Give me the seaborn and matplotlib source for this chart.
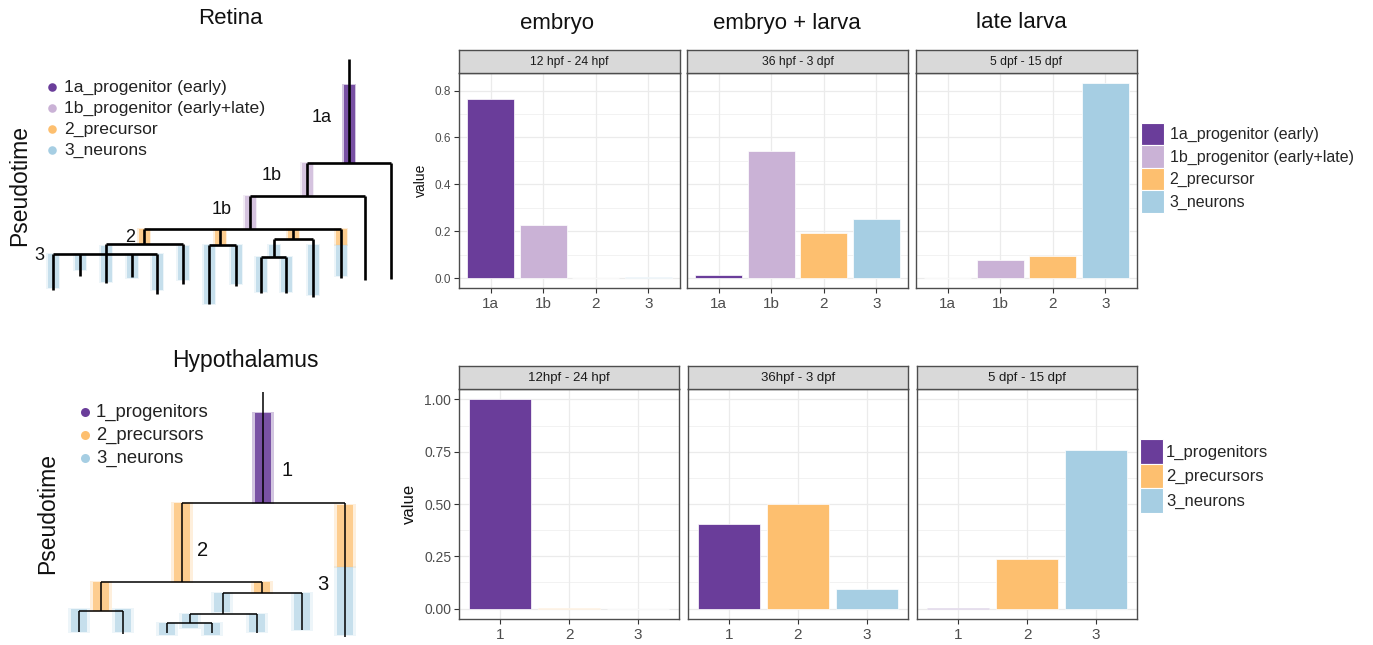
import numpy as np
import pandas as pd
import matplotlib
matplotlib.use("Agg")
import matplotlib.pyplot as plt
import seaborn as sns
from matplotlib.patches import Patch

# ------------------------------------------------------------------ data
retina_clusters = ["1a", "1b", "2", "3"]
retina_labels = ["1a_progenitor (early)", "1b_progenitor (early+late)", "2_precursor", "3_neurons"]
retina_colors = ["#6A3D9A", "#CAB2D6", "#FDBF6F", "#A6CEE3"]
retina_stages = ["12 hpf - 24 hpf", "36 hpf - 3 dpf", "5 dpf - 15 dpf"]
retina_embryo = [0.765, 0.225, 0.003, 0.007]
retina_mid = [0.014, 0.541, 0.194, 0.254]
retina_late = [0.0, 0.078, 0.093, 0.831]

hyp_clusters = ["1", "2", "3"]
hyp_labels = ["1_progenitors", "2_precursors", "3_neurons"]
hyp_colors = ["#6A3D9A", "#FDBF6F", "#A6CEE3"]
hyp_stages = ["12hpf - 24 hpf", "36hpf - 3 dpf", "5 dpf - 15 dpf"]
hyp_embryo = [1.0, 0.002, 0.0]
hyp_mid = [0.405, 0.5, 0.094]
hyp_late = [0.003, 0.238, 0.758]

column_titles = ["embryo", "embryo + larva", "late larva"]

# dendrograms (layout x, pseudotime y) -- vertical branches (x, y_start, y_end)
ret_vx = [349, 391, 307, 365, 250, 341, 144, 183, 106, 53, 80, 106, 132, 157, 220, 209, 236, 293, 313, 274, 261, 286]
ret_vy0 = [59, 163, 163, 196, 196, 229, 229, 244, 244, 254, 254, 254, 254, 254, 229, 245, 245, 229, 239, 239, 257, 257]
ret_vy1 = [163, 279, 196, 280, 229, 278, 244, 284, 254, 290, 276, 283, 277, 294, 245, 304, 286, 239, 297, 257, 293, 293]
# horizontal joins (y, x_start, x_end)
ret_hy = [163, 196, 229, 244, 254, 245, 239, 257]
ret_hx0 = [307, 250, 144, 106, 53, 209, 274, 261]
ret_hx1 = [391, 365, 341, 183, 157, 236, 313, 286]
# cell clouds (x, y_start, y_end, cluster index)
ret_cx = [349, 307, 250, 144, 220, 293, 341, 341, 53, 80, 106, 132, 157, 183, 209, 236, 274, 261, 286, 313]
ret_cy0 = [85, 163, 196, 229, 229, 229, 229, 245, 254, 254, 246, 254, 254, 246, 245, 245, 245, 257, 257, 245]
ret_cy1 = [163, 196, 229, 244, 245, 239, 245, 276, 288, 270, 282, 278, 290, 280, 304, 284, 258, 292, 292, 295]
ret_ck = [0, 1, 1, 2, 2, 2, 2, 3, 3, 3, 3, 3, 3, 3, 3, 3, 3, 3, 3, 3]
ret_node_labels = ["1a", "1b", "1b", "2", "3"]
ret_node_lx = [322, 272, 222, 130, 39]
ret_node_ly = [118, 176, 209, 237, 256]

hyp_vx = [263, 345, 182, 101, 79, 123, 262, 302, 223, 257, 190, 167, 212]
hyp_vy0 = [392, 503, 503, 582, 611, 611, 582, 593, 593, 614, 614, 623, 623]
hyp_vy1 = [503, 637, 582, 611, 632, 634, 593, 630, 614, 633, 623, 633, 633]
hyp_hy = [503, 582, 611, 593, 614, 623]
hyp_hx0 = [182, 101, 79, 223, 190, 167]
hyp_hx1 = [345, 262, 123, 302, 257, 212]
hyp_cx = [263, 182, 345, 345, 101, 262, 79, 123, 222, 302, 257, 190, 167, 212]
hyp_cy0 = [413, 503, 505, 567, 582, 582, 609, 609, 593, 593, 614, 614, 623, 623]
hyp_cy1 = [503, 582, 567, 635, 611, 593, 632, 632, 612, 630, 632, 628, 635, 635]
hyp_ck = [0, 1, 1, 2, 1, 1, 2, 2, 2, 2, 2, 2, 2, 2]
hyp_node_labels = ["1", "2", "3"]
hyp_node_lx = [287, 203, 323]
hyp_node_ly = [470, 550, 585]

# ------------------------------------------------------------------ figure
W, H = 1373, 645
sns.set_theme(style="white")
plt.rcParams["font.family"] = ["Liberation Sans", "DejaVu Sans"]
fig = plt.figure(figsize=(W / 100, H / 100), dpi=100)
fig.patch.set_facecolor("white")


def fx(x):
    return x / W


def fy(y):
    return 1 - y / H


# ---------------- dendrogram axes (pixel-like layout units)
axt = fig.add_axes([0, 0, 400 / W, 1])
axt.set_xlim(0, 400)
axt.set_ylim(H, 0)
axt.axis("off")


def draw_tree(vx, vy0, vy1, hy, hx0, hx1, cx, cy0, cy1, ck, colors, cw, lw):
    last = len(colors) - 1
    for x, a, b, k in zip(cx, cy0, cy1, ck):
        alpha = 0.85 if k == 0 else (0.7 if k < last else 0.55)
        # soft halo, then denser core of the cell cloud
        axt.bar(x, b - a + 2, bottom=a - 1, width=cw * 1.35, color=colors[k],
                alpha=alpha * 0.35, linewidth=0, zorder=1)
        axt.bar(x, b - a, bottom=a, width=cw, color=colors[k], alpha=alpha,
                linewidth=0, zorder=2)
    axt.vlines(vx, vy0, vy1, color="black", linewidth=lw, zorder=3)
    axt.hlines(hy, hx0, hx1, color="black", linewidth=lw, zorder=3)


draw_tree(ret_vx, ret_vy0, ret_vy1, ret_hy, ret_hx0, ret_hx1,
          ret_cx, ret_cy0, ret_cy1, ret_ck, retina_colors, 11, 1.9)
draw_tree(hyp_vx, hyp_vy0, hyp_vy1, hyp_hy, hyp_hx0, hyp_hx1,
          hyp_cx, hyp_cy0, hyp_cy1, hyp_ck, hyp_colors, 16, 1.1)

for t, x, y in zip(ret_node_labels, ret_node_lx, ret_node_ly):
    axt.text(x, y, t, ha="center", va="center", fontsize=13, color="#111111")
for t, x, y in zip(hyp_node_labels, hyp_node_lx, hyp_node_ly):
    axt.text(x, y, t, ha="center", va="center", fontsize=14.5, color="#111111")

# tree legends
for i, (lab, c) in enumerate(zip(retina_labels, retina_colors)):
    axt.scatter([52], [87 + 21 * i], s=38, color=c, linewidth=0, zorder=4)
    axt.text(64, 87 + 21 * i, lab, ha="left", va="center", fontsize=12.6, color="#222222")
for i, (lab, c) in enumerate(zip(hyp_labels, hyp_colors)):
    axt.scatter([85], [412 + 23 * i], s=42, color=c, linewidth=0, zorder=4)
    axt.text(96, 412 + 23 * i, lab, ha="left", va="center", fontsize=13.3, color="#222222")

axt.text(230, 19, "Retina", ha="center", va="center", fontsize=16, color="#111111")
axt.text(245, 360, "Hypothalamus", ha="center", va="center", fontsize=16.5, color="#111111")
axt.text(20, 185, "Pseudotime", ha="center", va="center", rotation=90, fontsize=16.5, color="#111111")
axt.text(48, 513, "Pseudotime", ha="center", va="center", rotation=90, fontsize=16.5, color="#111111")

# ---------------- bar panels
GRID = "#EBEBEB"
BORDER = "#4D4D4D"


def bar_panel(rect, strip_h, clusters, values, colors, stage, ylim, yticks, yticklabels,
              yminor, show_y, ylabel, ytick_fs, ylabel_fs, strip_fs):
    l, t, r, b = rect
    ax = fig.add_axes([fx(l), fy(b), fx(r - l), (b - t) / H])
    df = pd.DataFrame({"cluster": clusters, "value": values})
    sns.barplot(data=df, x="cluster", y="value", hue="cluster", order=clusters,
                hue_order=clusters, palette=dict(zip(clusters, colors)), saturation=1,
                width=0.9, legend=False, ax=ax, edgecolor="white", linewidth=0.5,
                errorbar=None, zorder=3)
    n = len(clusters)
    ax.set_xlim(-0.6, n - 0.4)
    ax.set_ylim(*ylim)
    ax.set_yticks(yticks)
    ax.set_yticks(yminor, minor=True)
    ax.set_facecolor("white")
    ax.grid(True, which="major", color=GRID, linewidth=0.9, zorder=0)
    ax.grid(True, which="minor", axis="y", color=GRID, linewidth=0.45, zorder=0)
    ax.set_axisbelow(True)
    for s in ax.spines.values():
        s.set_visible(True)
        s.set_color(BORDER)
        s.set_linewidth(1.0)
    ax.tick_params(axis="x", which="major", bottom=True, length=3.5, width=0.8,
                   color="#333333", labelsize=11, labelcolor="#4D4D4D", pad=3)
    ax.tick_params(axis="y", which="minor", left=False)
    ax.set_xlabel("")
    if show_y:
        ax.set_yticklabels(yticklabels)
        ax.tick_params(axis="y", which="major", left=True, length=3.5, width=0.8,
                       color="#333333", labelsize=ytick_fs, labelcolor="#4D4D4D", pad=2)
        ax.set_ylabel(ylabel, fontsize=ylabel_fs, color="#111111", labelpad=5)
    else:
        ax.tick_params(axis="y", which="major", left=False, labelleft=False)
        ax.set_ylabel("")
    sax = fig.add_axes([fx(l), fy(t), fx(r - l), strip_h / H])
    sax.set_facecolor("#D9D9D9")
    sax.set_xticks([])
    sax.set_yticks([])
    for s in sax.spines.values():
        s.set_visible(True)
        s.set_color(BORDER)
        s.set_linewidth(1.0)
    sax.text(0.5, 0.5, stage, transform=sax.transAxes, ha="center", va="center",
             fontsize=strip_fs, color="#1A1A1A")
    return ax


top_lefts = [459, 687, 916]
bot_lefts = [459, 688, 917]
ret_vals = [retina_embryo, retina_mid, retina_late]
hyp_vals = [hyp_embryo, hyp_mid, hyp_late]
for i in range(3):
    bar_panel((top_lefts[i], 73, top_lefts[i] + 221, 288), 23, retina_clusters, ret_vals[i],
              retina_colors, retina_stages[i], (-0.0417, 0.875),
              [0.0, 0.2, 0.4, 0.6, 0.8], ["0.0", "0.2", "0.4", "0.6", "0.8"],
              [0.1, 0.3, 0.5, 0.7], i == 0, "value", 8.5, 10, 8.7)
    bar_panel((bot_lefts[i], 389, bot_lefts[i] + 220, 619), 23, hyp_clusters, hyp_vals[i],
              hyp_colors, hyp_stages[i], (-0.05, 1.05),
              [0.0, 0.25, 0.5, 0.75, 1.0], ["0.00", "0.25", "0.50", "0.75", "1.00"],
              [0.125, 0.375, 0.625, 0.875], i == 0, "value", 10, 12, 9.5)

# column titles
for t, x in zip(column_titles, [557, 787, 1021]):
    fig.text(fx(x), fy(23), t, ha="center", va="center", fontsize=16, color="#111111")

# bar legends
ret_handles = [Patch(facecolor=c, edgecolor="white", linewidth=0.8, label=l)
               for l, c in zip(retina_labels, retina_colors)]
fig.legend(handles=ret_handles, loc="upper left", bbox_to_anchor=(fx(1141), fy(123)),
           frameon=False, fontsize=11.5, handlelength=1.45, handleheight=1.78,
           labelspacing=0.0, handletextpad=0.35, borderpad=0, borderaxespad=0)
hyp_handles = [Patch(facecolor=c, edgecolor="white", linewidth=0.8, label=l)
               for l, c in zip(hyp_labels, hyp_colors)]
fig.legend(handles=hyp_handles, loc="upper left", bbox_to_anchor=(fx(1140), fy(439)),
           frameon=False, fontsize=12, handlelength=1.4, handleheight=1.9,
           labelspacing=0.0, handletextpad=0.15, borderpad=0, borderaxespad=0)

fig.savefig("out.png", dpi=100, facecolor="white")
